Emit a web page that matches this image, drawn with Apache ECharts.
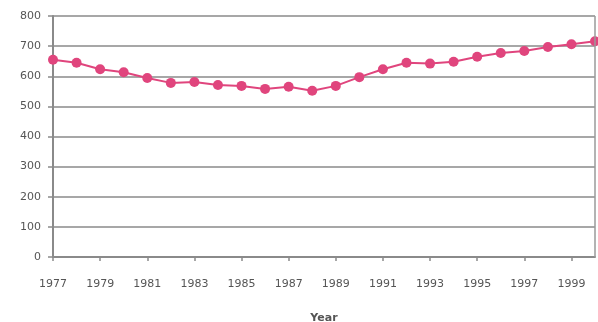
<!DOCTYPE html>
<html>
<head>
<meta charset="utf-8">
<script src="https://cdn.jsdelivr.net/npm/echarts@6/dist/echarts.min.js"></script>
<style>
  html, body { margin: 0; padding: 0; background: #ffffff; }
  #chart { width: 598px; height: 322px; }
</style>
</head>
<body>
<div id="chart"></div>
<script>
// Yearly values, 1977–2000
const years = ['1977','1978','1979','1980','1981','1982','1983','1984','1985','1986','1987','1988',
               '1989','1990','1991','1992','1993','1994','1995','1996','1997','1998','1999','2000'];
const values = [655, 645, 623, 613, 594, 578, 581, 571, 568, 558, 565, 552,
                568, 597, 623, 645, 642, 648, 665, 677, 684, 697, 706, 716];
const yTicks = [0, 100, 200, 300, 400, 500, 600, 700, 800];

const chart = echarts.init(document.getElementById('chart'), null, { renderer: 'canvas' });
chart.setOption({
  animation: false,
  backgroundColor: '#ffffff',
  grid: { left: 53, right: 3, top: 16, bottom: 65, containLabel: false, outerBoundsMode: 'none' },
  xAxis: {
    type: 'category',
    data: years,
    boundaryGap: false,
    name: 'Year',
    nameLocation: 'middle',
    nameGap: 56,
    nameTextStyle: { color: '#555', fontSize: 11, fontWeight: 'bold', fontFamily: 'DejaVu Sans' },
    axisLine: { show: true, lineStyle: { color: '#8a8a8a', width: 2 } },
    axisTick: { show: true, interval: 1, length: 4, lineStyle: { color: '#8a8a8a', width: 1.5 } },
    axisLabel: { interval: 1, color: '#555', fontSize: 11, margin: 22, fontFamily: 'DejaVu Sans' },
    splitLine: { show: false }
  },
  yAxis: {
    type: 'value',
    min: yTicks[0],
    max: yTicks[yTicks.length - 1],
    interval: 100,
    position: 'left',
    axisLine: { show: true, lineStyle: { color: '#8a8a8a', width: 2 } },
    axisTick: { show: true, length: 5, lineStyle: { color: '#8a8a8a', width: 1.5 } },
    axisLabel: { color: '#555', fontSize: 11, margin: 12, fontFamily: 'DejaVu Sans' },
    splitLine: { show: true, lineStyle: { color: '#8a8a8a', width: 1.5 } }
  },
  series: [
    {
      type: 'line',
      data: values,
      symbol: 'circle',
      symbolSize: 10,
      lineStyle: { color: '#e0457d', width: 2 },
      itemStyle: { color: '#e0457d' }
    },
    {
      // right-hand frame edge of the plot area
      type: 'line',
      data: [],
      markLine: {
        silent: true,
        symbol: 'none',
        label: { show: false },
        lineStyle: { color: '#9a9a9a', width: 1.5, type: 'solid' },
        data: [{ xAxis: years[years.length - 1] }]
      }
    }
  ]
});
</script>
</body>
</html>
